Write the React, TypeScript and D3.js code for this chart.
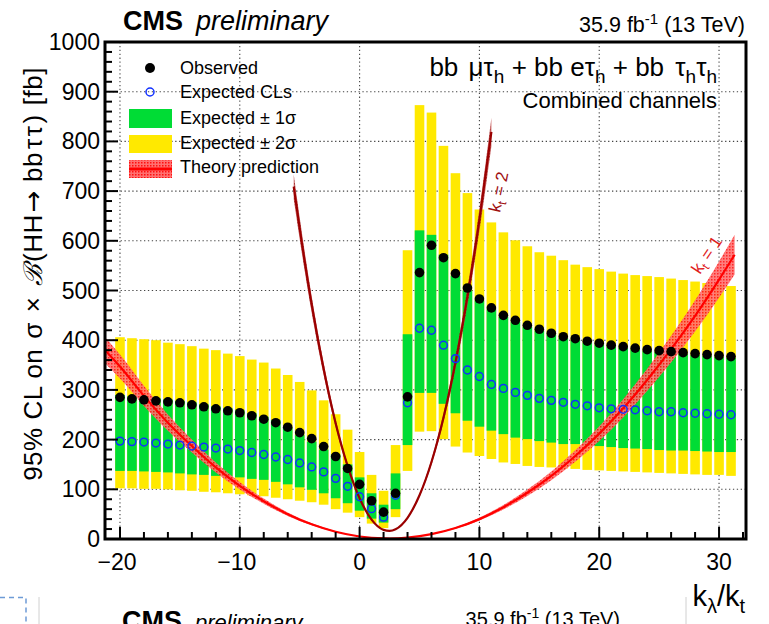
import React from 'react';
import * as d3 from 'd3';

const W = 769;
const H = 624;

// k_lambda / k_t scan points
const kl = [-20, -19, -18, -17, -16, -15, -14, -13, -12, -11, -10, -9, -8, -7, -6, -5, -4, -3, -2, -1,
  0, 1, 2, 3, 4, 5, 6, 7, 8, 9, 10, 11, 12, 13, 14, 15, 16, 17, 18, 19, 20, 21, 22, 23, 24, 25, 26, 27, 28, 29, 30, 31];

const observed = [285, 282, 280, 278, 276, 274, 270, 266, 262, 258, 254, 248, 241, 234, 225, 214, 202, 186, 166, 142,
  110, 77, 54, 92, 286, 536, 591, 566, 534, 505, 483, 465, 450, 440, 430, 422, 414, 407, 403, 398,
  394, 390, 387, 384, 381, 379, 377, 375, 373, 371, 369, 367];

const expected = [197, 196, 195, 193, 191, 189, 187, 185, 183, 181, 178, 174, 170, 165, 160, 153, 145, 135, 122, 106,
  85, 61, 44, 88, 274, 424, 420, 390, 363, 340, 327, 311, 303, 295, 289, 283, 279, 275, 271, 268,
  264, 262, 261, 260, 258, 256, 256, 254, 253, 252, 251, 250];

const exp2Up = [406, 404, 402, 400, 395, 392, 388, 383, 380, 373, 368, 361, 355, 343, 330, 316, 299, 279, 251, 220,
  175, 129, 97, 189, 581, 873, 858, 791, 736, 696, 663, 637, 617, 601, 589, 577, 570, 561, 552, 547,
  543, 538, 534, 531, 529, 527, 524, 521, 518, 515, 512, 509];

const exp1Up = [290, 287, 285, 283, 281, 278, 275, 271, 267, 263, 259, 253, 246, 239, 224, 209, 196, 180, 170, 150,
  124, 92, 69, 132, 412, 621, 612, 572, 530, 500, 480, 462, 447, 437, 427, 419, 411, 404, 400, 395,
  391, 387, 384, 381, 378, 376, 374, 372, 370, 368, 366, 364];

const exp1Dn = [137, 137, 136, 135, 134, 132, 130, 129, 127, 125, 124, 121, 119, 115, 110, 104, 99, 92, 82, 72,
  57, 41, 33, 60, 189, 294, 294, 272, 253, 238, 226, 218, 211, 204, 201, 197, 194, 191, 191, 189,
  187, 185, 183, 182, 181, 179, 178, 178, 177, 176, 175, 175];

const exp2Dn = [102, 102, 101, 101, 100, 98, 97, 95, 94, 92, 90, 88, 86, 83, 80, 77, 74, 69, 60, 53,
  44, 31, 22, 44, 137, 216, 217, 201, 186, 174, 167, 161, 154, 151, 147, 145, 144, 142, 141, 139,
  138, 137, 136, 135, 134, 133, 132, 131, 130, 129, 129, 127];

// theory prediction, k_t = 1
const thR1 = [-21.25, -20, -18, -16, -14, -12, -10, -8, -6, -4, -2, 0, 2, 2.5, 4, 6, 8, 10, 12, 14, 16, 18, 20, 22, 24, 26, 28, 30, 31.3];
const thS1 = [380, 347, 288, 234, 187, 144, 107, 76, 50, 29.5, 14.6, 5.1, 1.15, 1.0, 2.7, 9.7, 22, 40, 64, 93, 127, 167, 212, 263, 320, 382, 449, 522, 572];

// theory prediction, k_t = 2
const thR2 = [-5.5, -5, -4, -3, -2, -1, 0, 1, 2, 2.5, 3, 4, 5, 6, 7, 8, 9, 10, 11];
const thS2 = [709, 625, 472, 342, 233, 147, 82, 39, 18.4, 16.3, 19.6, 42.7, 88, 155, 244, 355, 488, 642, 819];

const xMajor = [-20, -10, 0, 10, 20, 30];
const xMajorLabels = ['\u221220', '\u221210', '0', '10', '20', '30'];
const yMajor = [0, 100, 200, 300, 400, 500, 600, 700, 800, 900, 1000];

const FONT = '"Liberation Sans", Arial, Helvetica, sans-serif';
const GREEN = '#00dc35';
const YELLOW = '#ffe900';
const BLUE = '#1030ff';

export default function App() {
  const L = 105, R = 746, T = 42, B = 539;
  const x = d3.scaleLinear().domain([-21.25, 32.25]).range([L, R]);
  const y = d3.scaleLinear().domain([0, 1000]).range([B, T]);
  const hw = 0.4;

  const xMinor = d3.range(-20, 33, 2).filter((v) => !xMajor.includes(v));
  const yMinor = d3.range(0, 1001, 20).filter((v) => v % 100 !== 0);

  const band = (rs: number[], ss: number[], f: number) =>
    d3.area<number>()
      .x((_, i) => x(rs[i]))
      .y0((_, i) => y(ss[i] * (1 - f)))
      .y1((_, i) => y(ss[i] * (1 + f)))
      .curve(d3.curveMonotoneX)(rs) || '';
  const line = (rs: number[], ss: number[]) =>
    d3.line<number>().x((_, i) => x(rs[i])).y((_, i) => y(ss[i])).curve(d3.curveMonotoneX)(rs) || '';

  const legendY = [68, 92, 118, 143, 167];
  const legendLabels = ['Observed', 'Expected CLs', 'Expected \u00b1 1\u03c3', 'Expected \u00b1 2\u03c3', 'Theory prediction'];

  return (
    <svg width={W} height={H} viewBox={`0 0 ${W} ${H}`}
      style={{ position: 'absolute', left: 0, top: 0, background: '#fff' }} fontFamily={FONT}>
      <defs>
        <pattern id="hatch1" width="3" height="3" patternUnits="userSpaceOnUse">
          <rect width="3" height="3" fill="#ff7070" />
          <rect width="1.5" height="1.5" fill="#ff1010" />
        </pattern>
        <pattern id="hatch2" width="3" height="3" patternUnits="userSpaceOnUse">
          <rect width="3" height="3" fill="#c04040" />
          <rect width="1.5" height="1.5" fill="#8a0000" />
        </pattern>
        <clipPath id="plotClip">
          <rect x={L} y={T} width={R - L} height={B - T} />
        </clipPath>
      </defs>
      <rect x={0} y={0} width={W} height={H} fill="#fff" />

      {/* grid */}
      <g stroke="#444" strokeWidth={1.1} strokeDasharray="1.3 2.6">
        {xMajor.map((v) => (
          <line key={'gx' + v} x1={x(v)} x2={x(v)} y1={T} y2={B} />
        ))}
        {yMajor.filter((v) => v > 0 && v < 1000).map((v) => (
          <line key={'gy' + v} x1={L} x2={R} y1={y(v)} y2={y(v)} />
        ))}
      </g>

      {/* bands */}
      <g>
        {kl.map((k, i) => (
          <rect key={'y' + k} x={x(k - hw)} width={x(k + hw) - x(k - hw)}
            y={y(exp2Up[i])} height={y(exp2Dn[i]) - y(exp2Up[i])} fill={YELLOW} />
        ))}
        {kl.map((k, i) => (
          <rect key={'g' + k} x={x(k - hw)} width={x(k + hw) - x(k - hw)}
            y={y(exp1Up[i])} height={y(exp1Dn[i]) - y(exp1Up[i])} fill={GREEN} />
        ))}
      </g>

      {/* theory */}
      <g clipPath="url(#plotClip)">
        <path d={band(thR1, thS1, 0.07)} fill="url(#hatch1)" opacity={0.9} />
        <path d={line(thR1, thS1)} fill="none" stroke="#ff0000" strokeWidth={2.2} />
        <path d={band(thR2, thS2, 0.035)} fill="url(#hatch2)" opacity={0.8} />
        <path d={line(thR2, thS2)} fill="none" stroke="#9a0000" strokeWidth={2.2} />
      </g>
      <text transform={`translate(500,213) rotate(-78)`} fontSize={17} fill="#a01010">
        k<tspan fontSize={12} dy={4}>t</tspan><tspan dy={-4}> = 2</tspan>
      </text>
      <text transform={`translate(700,275) rotate(-56)`} fontSize={17} fill="#e02020">
        k<tspan fontSize={12} dy={4}>t</tspan><tspan dy={-4}> = 1</tspan>
      </text>

      {/* markers */}
      <g>
        {kl.map((k, i) => (
          <circle key={'e' + k} cx={x(k)} cy={y(expected[i])} r={3.9} fill="none" stroke={BLUE} strokeWidth={1.5} />
        ))}
        {kl.map((k, i) => (
          <circle key={'o' + k} cx={x(k)} cy={y(observed[i])} r={4.8} fill="#000" />
        ))}
      </g>

      {/* frame */}
      <rect x={L} y={T} width={R - L} height={B - T} fill="none" stroke="#000" strokeWidth={3} />

      {/* ticks */}
      <g stroke="#000" strokeWidth={2}>
        {xMajor.map((v) => (
          <line key={'tx' + v} x1={x(v)} x2={x(v)} y1={B} y2={B - 12} />
        ))}
        {xMinor.map((v) => (
          <line key={'mx' + v} x1={x(v)} x2={x(v)} y1={B} y2={B - 7} />
        ))}
        {yMajor.map((v) => (
          <line key={'ty' + v} x1={L} x2={L + 13} y1={y(v)} y2={y(v)} />
        ))}
        {yMinor.map((v) => (
          <line key={'my' + v} x1={L} x2={L + 7} y1={y(v)} y2={y(v)} />
        ))}
      </g>

      {/* tick labels */}
      <g fontSize={23} fill="#000">
        {xMajor.map((v, i) => (
          <text key={'lx' + v} x={x(v) - (v < 0 ? 3 : 0)} y={570} textAnchor="middle">{xMajorLabels[i]}</text>
        ))}
        {yMajor.map((v) => (
          <text key={'ly' + v} x={100} y={y(v) + 8} textAnchor="end">{v}</text>
        ))}
      </g>

      {/* axis titles */}
      <text transform="translate(42,274) rotate(-90)" fontSize={26} textAnchor="middle" letterSpacing={0.5}>
        <tspan>95% CL on</tspan>
        <tspan dx={10}>σ</tspan>
        <tspan dx={10}>×</tspan>
        <tspan dx={10} fontStyle="italic" fontFamily="DejaVu Serif, serif">ℬ</tspan>
        <tspan dx={2}>(HH</tspan>
        <tspan dx={2} fontFamily="DejaVu Sans, sans-serif">→</tspan>
        <tspan dx={8}>bb</tspan>
        <tspan dx={3}>τ</tspan>
        <tspan dx={2}>τ</tspan>
        <tspan dx={2}>)</tspan>
        <tspan dx={9}>[fb]</tspan>
      </text>
      <text x={745} y={606} fontSize={29} textAnchor="end">
        k<tspan fontSize={20} dy={7}>λ</tspan><tspan dy={-7}>/k</tspan><tspan fontSize={20} dy={7}>t</tspan>
      </text>

      {/* header */}
      <text x={123} y={30} fontSize={27} fontWeight="bold">CMS</text>
      <text x={196} y={30} fontSize={27} fontStyle="italic">preliminary</text>
      <text x={745} y={32} fontSize={21.5} textAnchor="end">
        35.9 fb<tspan fontSize={15} dy={-8}>-1</tspan><tspan dy={8}> (13 TeV)</tspan>
      </text>

      <text x={717} y={76} fontSize={26} textAnchor="end">
        <tspan>bb </tspan><tspan dx={3}>μτ</tspan><tspan fontSize={19} dy={7}>h</tspan>
        <tspan dy={-7}> + bb e</tspan><tspan>τ</tspan><tspan fontSize={19} dy={7}>h</tspan>
        <tspan dy={-7}> + bb </tspan><tspan dx={4}>τ</tspan><tspan fontSize={19} dy={7}>h</tspan>
        <tspan dy={-7}>τ</tspan><tspan fontSize={19} dy={7}>h</tspan>
      </text>
      <text x={717} y={108} fontSize={22} textAnchor="end">Combined channels</text>

      {/* legend */}
      <circle cx={150} cy={legendY[0]} r={5} fill="#000" />
      <circle cx={150} cy={legendY[1]} r={4} fill="none" stroke={BLUE} strokeWidth={1.5} />
      <rect x={129} y={109} width={43} height={19} fill={GREEN} />
      <rect x={129} y={135} width={43} height={18} fill={YELLOW} />
      <rect x={129} y={160} width={43} height={18} fill="url(#hatch1)" />
      <line x1={129} x2={172} y1={169} y2={169} stroke="#ff0000" strokeWidth={3} />
      <g fontSize={18}>
        {legendLabels.map((s, i) => (
          <text key={s} x={180} y={legendY[i] + 6}>{s}</text>
        ))}
      </g>

      {/* bits of the next page at the bottom */}
      <text x={122} y={630} fontSize={27} fontWeight="bold">CMS</text>
      <text x={195} y={630} fontSize={22} fontStyle="italic">preliminary</text>
      <text x={620} y={626} fontSize={20} textAnchor="end">
        35.9 fb<tspan fontSize={14} dy={-8}>-1</tspan><tspan dy={8}> (13 TeV)</tspan>
      </text>
      <path d="M0,597.5 H26 V624" fill="none" stroke="#6d9bd6" strokeWidth={1.5} strokeDasharray="5 4" />
      <line x1={39} x2={39} y1={597} y2={624} stroke="#d0d0d0" strokeWidth={1} />
      <line x1={686} x2={686} y1={597} y2={624} stroke="#d0d0d0" strokeWidth={1} />
    </svg>
  );
}
